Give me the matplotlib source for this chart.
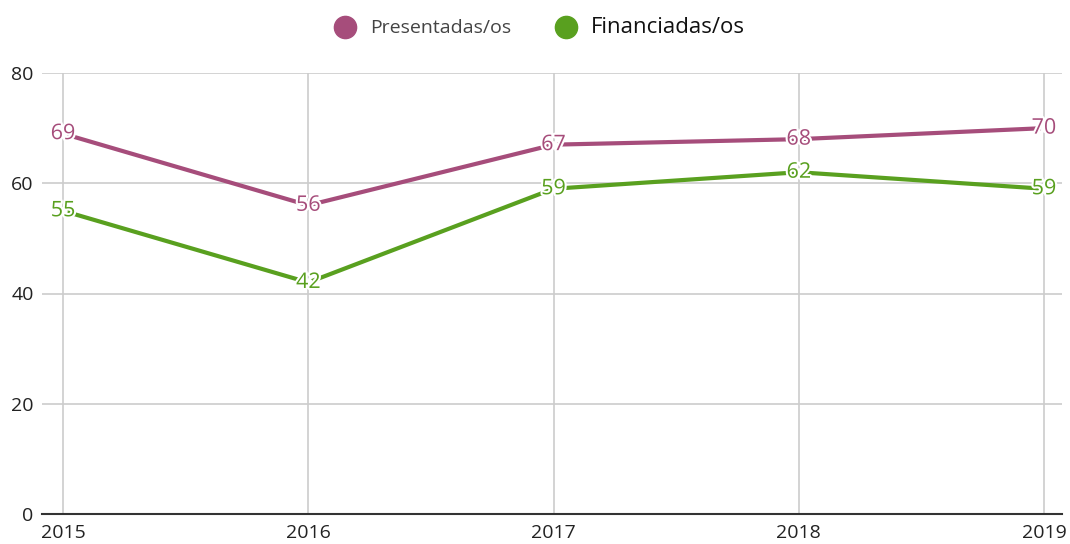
import matplotlib.pyplot as plt
import matplotlib.patheffects as pe
from matplotlib.lines import Line2D

years = [2015, 2016, 2017, 2018, 2019]
presentadas = [69, 56, 67, 68, 70]
financiadas = [55, 42, 59, 62, 59]
series_names = ["Presentadas/os", "Financiadas/os"]
y_ticks = [0, 20, 40, 60, 80]

purple = "#a64d7b"
green = "#59a01f"

plt.rcParams['font.family'] = ['Open Sans', 'DejaVu Sans']

fig = plt.figure(figsize=(10.7, 5.44), dpi=100)
ax = fig.add_axes([42/1070, 30/544, 1020/1070, 441/544])

for vals, col in [(presentadas, purple), (financiadas, green)]:
    ax.plot(years, vals, color=col, lw=3, zorder=3, solid_capstyle='round')
    ax.plot(years, vals, 'o', ms=5, mfc='white', mec='white', zorder=4)
    for x, v in zip(years, vals):
        ax.text(x, v, str(v), color=col, fontsize=15.5, ha='center', va='center', zorder=5,
                path_effects=[pe.withStroke(linewidth=3, foreground='white')])

ax.set_xlim(2015 - 21/245.25, 2019 + 18/245.25)
ax.set_ylim(0, 80)
ax.set_yticks(y_ticks)
ax.set_xticks(years)
ax.set_xticklabels([str(y) for y in years])
ax.grid(True, color='#cccccc', lw=1.2, zorder=0)
for s in ['top', 'right', 'left']:
    ax.spines[s].set_visible(False)
ax.spines['bottom'].set_color('#333333')
ax.spines['bottom'].set_linewidth(1.5)
ax.spines['bottom'].set_zorder(6)
ax.tick_params(length=0, labelsize=14, colors='#222222')
ax.tick_params(axis='y', pad=6)
ax.tick_params(axis='x', pad=7)

handles = [Line2D([], [], marker='o', ls='', ms=16, color=purple),
           Line2D([], [], marker='o', ls='', ms=16, color=green)]
leg = fig.legend(handles, series_names, loc='upper center', bbox_to_anchor=(0.5, 1.0),
                 ncol=2, frameon=False, fontsize=14, handletextpad=0.3, columnspacing=1.8)
leg.get_texts()[0].set_color('#444444')
leg.get_texts()[1].set_fontsize(16)
leg.get_texts()[1].set_color('#111111')

fig.savefig('out.png', dpi=100)
